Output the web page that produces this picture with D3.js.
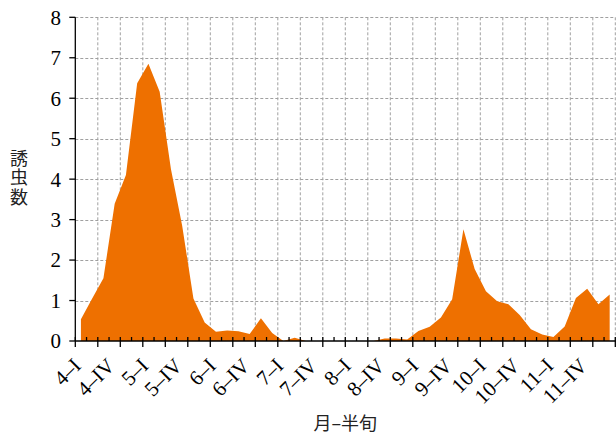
<!DOCTYPE html>
<html>
<head>
<meta charset="utf-8">
<script src="https://cdn.jsdelivr.net/npm/d3@7"></script>
<style>
  html, body { margin: 0; padding: 0; background: #fff; }
  svg { display: block; }
</style>
</head>
<body>
<svg id="chart" width="616" height="434"></svg>
<script>
// ---- data ----
const categories = [
  "4–I","4–II","4–III","4–IV","4–V","4–VI",
  "5–I","5–II","5–III","5–IV","5–V","5–VI",
  "6–I","6–II","6–III","6–IV","6–V","6–VI",
  "7–I","7–II","7–III","7–IV","7–V","7–VI",
  "8–I","8–II","8–III","8–IV","8–V","8–VI",
  "9–I","9–II","9–III","9–IV","9–V","9–VI",
  "10–I","10–II","10–III","10–IV","10–V","10–VI",
  "11–I","11–II","11–III","11–IV","11–V","11–VI"
];
const values = [
  0.54, 1.05, 1.55, 3.39, 4.10, 6.37,
  6.85, 6.16, 4.25, 2.85, 1.05, 0.46,
  0.23, 0.26, 0.24, 0.17, 0.56, 0.20,
  0.00, 0.08, 0.00, 0.00, 0.00, 0.00,
  0.00, 0.00, 0.00, 0.06, 0.06, 0.04,
  0.25, 0.35, 0.58, 1.03, 2.76, 1.78,
  1.23, 0.98, 0.91, 0.64, 0.29, 0.16,
  0.10, 0.36, 1.06, 1.29, 0.91, 1.15
];
const xTickLabels = ["4–I","4–IV","5–I","5–IV","6–I","6–IV","7–I","7–IV",
                     "8–I","8–IV","9–I","9–IV","10–I","10–IV","11–I","11–IV"];
const yTicks = [0,1,2,3,4,5,6,7,8];
const yLabel = "誘虫数";
const xLabel = "月–半旬";

(function () {
const svg = d3.select("#chart");
const mLeft = 75.3, mRight = 615.3, mTop = 17.3, mBottom = 341;
const nPeriods = categories.length;

const x = d3.scaleLinear().domain([0, nPeriods]).range([mLeft, mRight]);
const y = d3.scaleLinear().domain([0, 8]).range([mBottom, mTop]);

const serif = "Liberation Serif, DejaVu Serif, serif";
const cjk = "Noto Sans CJK JP, Noto Sans CJK SC, sans-serif";

// grid
const grid = svg.append("g")
  .attr("stroke", "#a0a0a0").attr("stroke-width", 1)
  .attr("stroke-dasharray", "3,2").attr("fill", "none");
grid.selectAll("line.h").data(yTicks.filter(d => d > 0)).join("line")
  .attr("x1", mLeft).attr("x2", mRight)
  .attr("y1", d => Math.round(y(d)) + 0.5).attr("y2", d => Math.round(y(d)) + 0.5);
const majorX = d3.range(0, nPeriods + 1, 2);
grid.selectAll("line.v").data(majorX.filter(d => d > 0)).join("line")
  .attr("x1", d => x(d)).attr("x2", d => x(d))
  .attr("y1", mTop).attr("y2", mBottom);

// area
const area = d3.area()
  .x((d, i) => x(i + 0.5))
  .y0(y(0))
  .y1(d => y(d))
  .curve(d3.curveLinear);
svg.append("path").datum(values)
  .attr("d", area)
  .attr("fill", "#ee7000");

// axes
const axisG = svg.append("g").attr("stroke", "#000").attr("stroke-width", 1.3);
axisG.append("line").attr("x1", mLeft).attr("x2", 616).attr("y1", mBottom).attr("y2", mBottom);
axisG.append("line").attr("x1", mLeft).attr("x2", mLeft).attr("y1", mTop).attr("y2", mBottom);
axisG.selectAll("line.yt").data(yTicks).join("line")
  .attr("x1", mLeft - 6).attr("x2", mLeft)
  .attr("y1", d => y(d)).attr("y2", d => y(d));
axisG.selectAll("line.xM").data(majorX).join("line")
  .attr("x1", d => x(d)).attr("x2", d => x(d))
  .attr("y1", mBottom - 4).attr("y2", mBottom + 6);
axisG.selectAll("line.xm").data(d3.range(1, nPeriods, 2)).join("line")
  .attr("x1", d => x(d)).attr("x2", d => x(d))
  .attr("y1", mBottom - 4).attr("y2", mBottom);

// y tick labels
svg.append("g").selectAll("text").data(yTicks).join("text")
  .attr("x", 61).attr("y", d => y(d))
  .attr("dy", "0.35em")
  .attr("text-anchor", "end")
  .style("font-family", serif).attr("font-size", 21)
  .text(d => d);

// x tick labels (every third period)
svg.append("g").selectAll("text").data(xTickLabels).join("text")
  .attr("transform", d => {
    const k = categories.indexOf(d);
    return `translate(${x(k) + 7},${mBottom + 26}) rotate(-45)`;
  })
  .attr("text-anchor", "end")
  .style("font-family", serif).attr("font-size", 21)
  .text(d => d);

// axis titles
svg.append("text")
  .attr("x", 19).attr("y", 149)
  .style("writing-mode", "vertical-rl")
  .style("font-family", cjk).attr("font-size", 18)
  .attr("letter-spacing", 1.5)
  .attr("fill", "#222")
  .text(yLabel);

svg.append("text")
  .attr("x", (mLeft + mRight) / 2).attr("y", 430)
  .attr("text-anchor", "middle")
  .style("font-family", cjk).attr("font-size", 18)
  .attr("fill", "#222")
  .text(xLabel);
})();
</script>
</body>
</html>
